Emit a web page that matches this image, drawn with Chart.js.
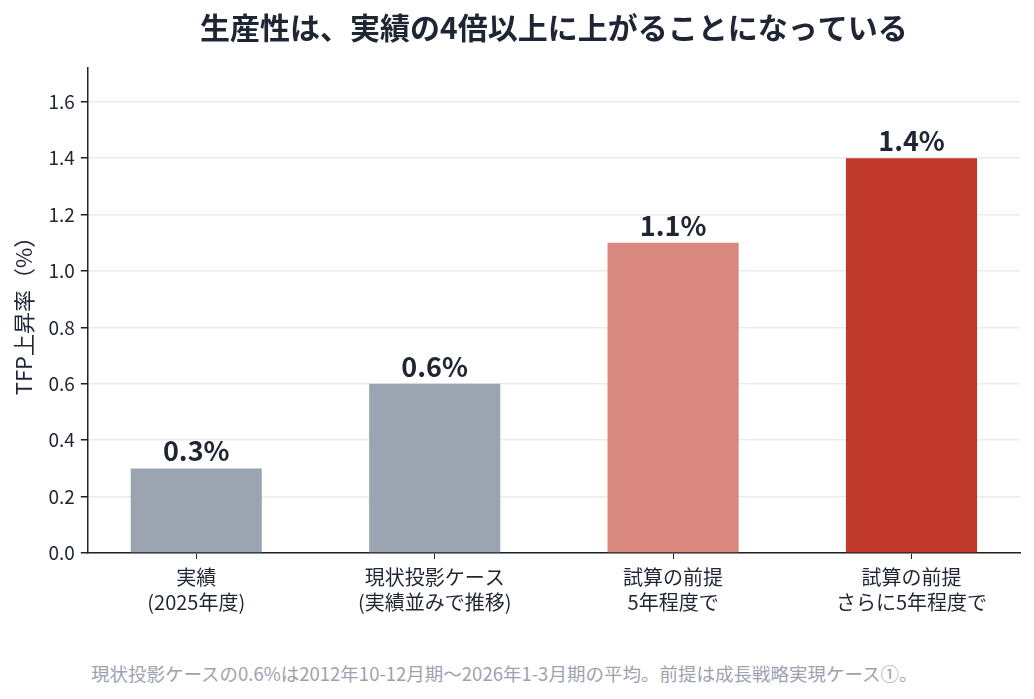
<!DOCTYPE html>
<html>
<head>
<meta charset="utf-8">
<script src="https://cdn.jsdelivr.net/npm/chart.js@4.4.1/dist/chart.umd.min.js"></script>
<style>
  body { margin: 0; background: #fff; }
  #wrap { position: relative; width: 1034px; height: 699px; }
  #note {
    position: absolute; left: 91px; top: 660px;
    font-family: "Noto Sans CJK JP", "Noto Sans", sans-serif;
    font-size: 18.5px; color: #9ca3af; white-space: nowrap;
  }
</style>
</head>
<body>
<div id="wrap">
  <canvas id="myChart" width="1034" height="621"></canvas>
  <div id="note">現状投影ケースの0.6%は2012年10-12月期〜2026年1-3月期の平均。前提は成長戦略実現ケース①。</div>
</div>
<script>
'use strict'

let chartTitle = '生産性は、実績の4倍以上に上がることになっている';
let categories = [
  ['実績', '(2025年度)'],
  ['現状投影ケース', '(実績並みで推移)'],
  ['試算の前提', '5年程度で'],
  ['試算の前提', 'さらに5年程度で']
];
let tfpValues = [0.3, 0.6, 1.1, 1.4];
let valueLabels = ['0.3%', '0.6%', '1.1%', '1.4%'];
let barColors = ['#9aa5b1', '#9aa5b1', '#d98880', '#c0392b'];
let yTicks = [0, 0.2, 0.4, 0.6, 0.8, 1.0, 1.2, 1.4, 1.6];

let font = '"Noto Sans CJK JP", "Noto Sans", sans-serif';
let ink = '#1f2633';

// title centred over the plot, labels over the bars
let barLabels = {
  id: 'barLabels',
  afterDatasetsDraw(chart) {
    let ctx = chart.ctx;
    let area = chart.chartArea;
    let meta = chart.getDatasetMeta(0);
    ctx.save();
    ctx.fillStyle = ink;
    ctx.textAlign = 'center';
    ctx.textBaseline = 'middle';
    ctx.font = 'bold 30px ' + font;
    ctx.fillText(chartTitle, (area.left + area.right) / 2, 28);

    ctx.font = 'bold 27px ' + font;
    ctx.textBaseline = 'alphabetic';
    meta.data.forEach(function (bar, i) {
      ctx.fillText(valueLabels[i], bar.x, bar.y - 7);
    });
    ctx.restore();
  }
};

let points = tfpValues.map(function (v, i) { return { x: i, y: v }; });

let ctx = document.getElementById('myChart').getContext('2d');
let myChart = new Chart(ctx, {
  type: 'bar',
  data: {
    datasets: [{
      data: points,
      backgroundColor: barColors,
      borderWidth: 0,
      categoryPercentage: 1,
      barPercentage: 0.55
    }]
  },
  options: {
    responsive: false,
    animation: false,
    layout: { padding: { left: 10, right: 14, top: 68, bottom: 0 } },
    plugins: {
      legend: { display: false },
      tooltip: { enabled: false },
      title: { display: false }
    },
    scales: {
      x: {
        type: 'linear',
        offset: false,
        min: -0.455,
        max: 3.455,
        afterBuildTicks(scale) {
          scale.ticks = categories.map(function (c, i) { return { value: i }; });
        },
        ticks: {
          color: ink,
          font: { family: font, size: 20, lineHeight: 1.25 },
          padding: 6,
          maxRotation: 0,
          callback: function (v) { return categories[v]; }
        },
        grid: { offset: false, drawOnChartArea: false, tickLength: 6, color: '#222' },
        border: { color: '#222', width: 1.5 }
      },
      y: {
        min: 0,
        max: 1.72,
        afterBuildTicks(scale) {
          scale.ticks = yTicks.map(function (v) { return { value: v }; });
        },
        ticks: {
          color: ink,
          font: { family: font, size: 19 },
          padding: 6,
          callback: function (v) { return v.toFixed(1); }
        },
        grid: { color: '#ebebeb', lineWidth: 1.5, tickLength: 7, tickColor: '#222' },
        border: { color: '#222', width: 1.5 },
        title: {
          display: true,
          text: 'TFP上昇率（%）',
          color: ink,
          font: { family: font, size: 22 },
          padding: { top: 0, bottom: 6 }
        }
      }
    }
  },
  plugins: [barLabels]
});
</script>
</body>
</html>
